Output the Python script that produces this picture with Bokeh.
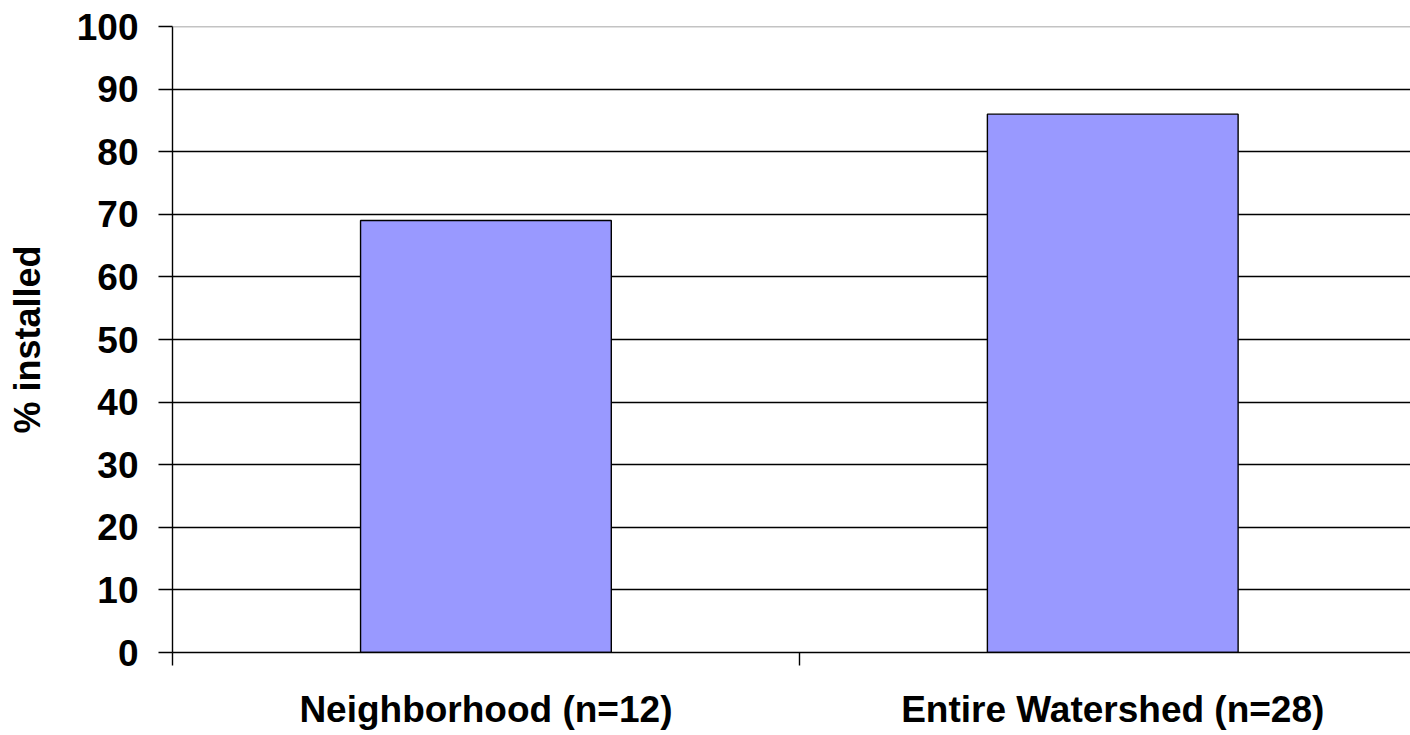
from bokeh.plotting import figure
from bokeh.models import Range1d, FixedTicker, Span, ColumnDataSource
from bokeh.embed import file_html
from bokeh.resources import INLINE

# ---- data ----
categories = ["Neighborhood (n=12)", "Entire Watershed (n=28)"]
values = [69, 86]
y_ticks = [0, 10, 20, 30, 40, 50, 60, 70, 80, 90, 100]
y_label = "% installed"

FONT = "Liberation Sans"
BAR_COLOR = "#9999FF"

centers = [i + 0.5 for i in range(len(categories))]
boundaries = [float(i) for i in range(len(categories) + 1)]

src = ColumnDataSource(dict(x=centers, top=values, cat=categories))

p = figure(width=1410, height=735, output_backend="svg", toolbar_location=None,
           x_range=Range1d(0, 1.975), y_range=Range1d(0, 100),
           min_border_left=172, min_border_right=0, min_border_top=26,
           min_border_bottom=83)
p.outline_line_color = None
p.background_fill_color = "white"
p.border_fill_color = "white"

p.vbar(x="x", top="top", bottom=0, width=0.4, source=src,
       fill_color=BAR_COLOR, line_color="black", line_width=1.4)

# grid
p.xgrid.grid_line_color = None
p.ygrid.ticker = FixedTicker(ticks=y_ticks[:-1])
p.ygrid.grid_line_color = "black"
p.ygrid.grid_line_width = 1.4
p.add_layout(Span(location=y_ticks[-1], dimension="width", line_color="#888888",
                  line_width=1.4))

# y axis
yax = p.yaxis[0]
yax.ticker = FixedTicker(ticks=y_ticks)
yax.axis_label = y_label
yax.axis_label_text_font = FONT
yax.axis_label_text_font_style = "bold"
yax.axis_label_text_font_size = "36px"
yax.axis_label_text_color = "black"
yax.axis_label_standoff = 26
yax.major_label_text_font = FONT
yax.major_label_text_font_style = "bold"
yax.major_label_text_font_size = "37px"
yax.major_label_text_color = "black"
yax.major_label_standoff = 20
yax.major_tick_out = 14
yax.major_tick_in = 0
yax.minor_tick_out = 0
yax.minor_tick_in = 0
yax.axis_line_color = "black"
yax.axis_line_width = 1.4
yax.major_tick_line_color = "black"
yax.major_tick_line_width = 1.4

# x axis
xax = p.xaxis[0]
xax.ticker = FixedTicker(ticks=centers, minor_ticks=boundaries)
xax.major_label_overrides = {c: lab for c, lab in zip(centers, categories)}
xax.major_label_text_font = FONT
xax.major_label_text_font_style = "bold"
xax.major_label_text_font_size = "37px"
xax.major_label_text_color = "black"
xax.major_label_standoff = 23
xax.major_tick_out = 0
xax.major_tick_in = 0
xax.minor_tick_out = 13
xax.minor_tick_in = 0
xax.minor_tick_line_color = "black"
xax.minor_tick_line_width = 1.4
xax.axis_line_color = "black"
xax.axis_line_width = 1.4

open("out.html", "w").write(file_html(p, INLINE))
